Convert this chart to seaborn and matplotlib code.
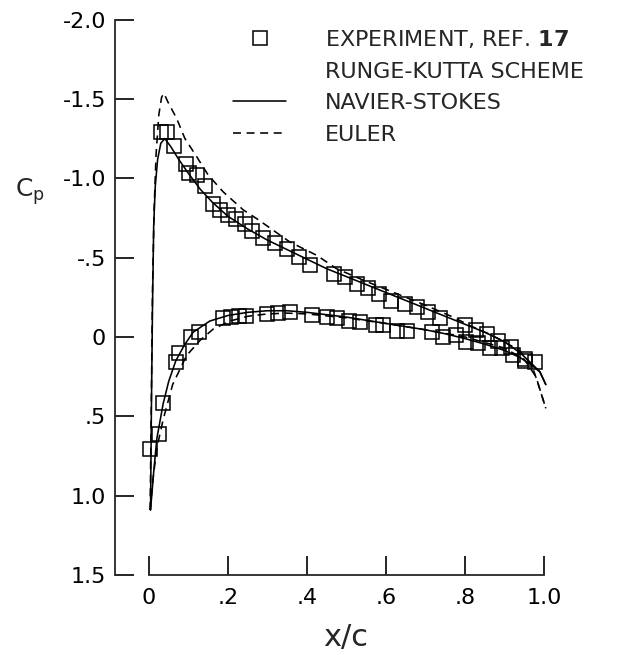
import matplotlib
matplotlib.use("Agg")
import matplotlib.pyplot as plt
import seaborn as sns
import pandas as pd
from matplotlib.lines import Line2D
from matplotlib.legend_handler import HandlerLine2D

# ---------------- data ----------------
exp_upper_x = [0.030, 0.046, 0.063, 0.094, 0.102, 0.121, 0.142, 0.161, 0.180, 0.199,
               0.220, 0.243, 0.260, 0.290, 0.320, 0.349, 0.381, 0.408, 0.468, 0.496,
               0.526, 0.555, 0.582, 0.614, 0.648, 0.678, 0.707, 0.737, 0.800, 0.828,
               0.857, 0.884, 0.918, 0.952, 0.977]
exp_upper_cp = [-1.29, -1.29, -1.20, -1.09, -1.03, -1.02, -0.95, -0.84, -0.80, -0.77,
                -0.745, -0.714, -0.665, -0.623, -0.592, -0.552, -0.503, -0.455, -0.398, -0.377,
                -0.335, -0.307, -0.272, -0.229, -0.208, -0.187, -0.156, -0.118, -0.076, -0.046,
                -0.019, 0.023, 0.065, 0.139, 0.160]

exp_lower_x = [0.003, 0.026, 0.036, 0.068, 0.077, 0.106, 0.127, 0.188, 0.209, 0.229,
               0.247, 0.298, 0.327, 0.357, 0.414, 0.450, 0.477, 0.507, 0.534, 0.575,
               0.593, 0.627, 0.654, 0.716, 0.745, 0.777, 0.804, 0.834, 0.863, 0.893,
               0.921, 0.952]
exp_lower_cp = [0.707, 0.613, 0.417, 0.160, 0.103, 0.002, -0.034, -0.118, -0.124, -0.131,
                -0.135, -0.145, -0.150, -0.156, -0.139, -0.124, -0.118, -0.103, -0.097, -0.076,
                -0.076, -0.040, -0.040, -0.030, 0.000, -0.013, 0.030, 0.038, 0.071, 0.071,
                0.114, 0.150]

ns_upper_x = [0.004, 0.006, 0.009, 0.012, 0.016, 0.022, 0.030, 0.040, 0.055, 0.075,
              0.100, 0.130, 0.160, 0.200, 0.250, 0.300, 0.350, 0.400, 0.450, 0.500,
              0.550, 0.600, 0.650, 0.700, 0.750, 0.800, 0.850, 0.900, 0.940, 0.970,
              0.990, 1.005]
ns_upper_cp = [1.09, 0.50, -0.20, -0.70, -0.95, -1.12, -1.22, -1.25, -1.20, -1.12,
               -1.03, -0.93, -0.85, -0.76, -0.68, -0.61, -0.55, -0.49, -0.43, -0.38,
               -0.33, -0.28, -0.23, -0.18, -0.13, -0.08, -0.03, 0.03, 0.10, 0.17,
               0.22, 0.30]

ns_lower_x = [0.004, 0.012, 0.020, 0.036, 0.050, 0.068, 0.090, 0.112, 0.154, 0.200,
              0.250, 0.300, 0.350, 0.400, 0.450, 0.500, 0.550, 0.600, 0.650, 0.700,
              0.750, 0.800, 0.850, 0.900, 0.940, 0.970, 0.990, 1.005]
ns_lower_cp = [1.09, 0.85, 0.64, 0.42, 0.28, 0.15, 0.05, -0.03, -0.10, -0.135,
               -0.155, -0.165, -0.165, -0.155, -0.140, -0.125, -0.105, -0.085, -0.065, -0.045,
               -0.020, 0.010, 0.045, 0.085, 0.130, 0.180, 0.220, 0.30]

eu_upper_x = [0.003, 0.006, 0.009, 0.013, 0.018, 0.025, 0.032, 0.038, 0.048, 0.070,
              0.091, 0.121, 0.150, 0.188, 0.239, 0.273, 0.357, 0.425, 0.475, 0.550,
              0.620, 0.700, 0.771, 0.813, 0.860, 0.900, 0.940, 0.970, 0.990, 1.005]
eu_upper_cp = [1.09, 0.40, -0.30, -0.80, -1.15, -1.40, -1.51, -1.535, -1.48, -1.377,
               -1.25, -1.135, -1.02, -0.914, -0.80, -0.745, -0.598, -0.514, -0.43, -0.35,
               -0.28, -0.20, -0.124, -0.071, -0.02, 0.03, 0.09, 0.18, 0.33, 0.45]

eu_lower_x = [0.003, 0.010, 0.020, 0.036, 0.060, 0.095, 0.130, 0.163, 0.205, 0.250,
              0.300, 0.350, 0.400, 0.500, 0.600, 0.700, 0.800, 0.900, 0.950, 0.980, 1.005]
eu_lower_cp = [1.09, 0.90, 0.70, 0.52, 0.30, 0.118, 0.02, -0.05, -0.10, -0.13,
               -0.145, -0.15, -0.145, -0.12, -0.085, -0.045, 0.00, 0.07, 0.14, 0.25, 0.45]

x_ticks = [0, 0.2, 0.4, 0.6, 0.8, 1.0]
x_tick_labels = ["0", ".2", ".4", ".6", ".8", "1.0"]
y_ticks = [-2.0, -1.5, -1.0, -0.5, 0.0, 0.5, 1.0, 1.5]
y_tick_labels = ["-2.0", "-1.5", "-1.0", "-.5", "0", ".5", "1.0", "1.5"]
legend_labels = [r"EXPERIMENT, REF. $\mathbf{17}$", "RUNGE-KUTTA SCHEME",
                 "NAVIER-STOKES", "EULER"]

# ---------------- tables ----------------
def frame(x, y, surface, model):
    return pd.DataFrame({"x": x, "cp": y, "surface": surface, "model": model})

curves = pd.concat([
    frame(ns_upper_x, ns_upper_cp, "upper", "Navier-Stokes"),
    frame(ns_lower_x, ns_lower_cp, "lower", "Navier-Stokes"),
    frame(eu_upper_x, eu_upper_cp, "upper", "Euler"),
    frame(eu_lower_x, eu_lower_cp, "lower", "Euler"),
], ignore_index=True)
curves["unit"] = curves["model"] + "-" + curves["surface"]

exp = pd.concat([
    frame(exp_upper_x, exp_upper_cp, "upper", "Experiment"),
    frame(exp_lower_x, exp_lower_cp, "lower", "Experiment"),
], ignore_index=True)

# ---------------- style ----------------
sns.set_style("ticks")
plt.rcParams["font.family"] = ["DejaVu Sans"]
plt.rcParams["mathtext.fontset"] = "dejavusans"

DASH = (5, 3.5)
fig = plt.figure(figsize=(6.18, 6.55), dpi=100)
ax = fig.add_axes([115 / 618, 1 - 575 / 655, (577 - 115) / 618, (575 - 19.5) / 655])

sns.lineplot(data=curves, x="x", y="cp", units="unit", style="model",
             style_order=["Navier-Stokes", "Euler"],
             dashes={"Navier-Stokes": "", "Euler": DASH},
             estimator=None, sort=False, color="black", linewidth=1.15,
             legend=False, ax=ax)

sns.lineplot(data=exp, x="x", y="cp", units="surface", estimator=None, sort=False,
             color="black", linestyle="", marker="s", markersize=9.5,
             markerfacecolor="none", markeredgecolor="black", markeredgewidth=1.1,
             legend=False, ax=ax)

ax.set_xlim(-0.086, 1.084)
ax.set_ylim(1.5, -2.0)
ax.set_xticks(x_ticks)
ax.set_xticklabels(x_tick_labels)
ax.set_yticks(y_ticks)
ax.set_yticklabels(y_tick_labels)
ax.tick_params(axis="both", direction="in", length=14, width=1.2, colors="black",
               labelsize=16)
ax.tick_params(axis="y", pad=6.5)
ax.tick_params(axis="x", pad=9)

for side in ("top", "right"):
    ax.spines[side].set_visible(False)
ax.spines["left"].set_linewidth(1.3)
ax.spines["bottom"].set_linewidth(1.3)
ax.spines["bottom"].set_bounds(0, 1.0)

ax.set_xlabel("x/c", fontsize=22, labelpad=11)
ax.set_ylabel("C$_\\mathregular{p}$", fontsize=18, rotation=0, labelpad=0)
ax.yaxis.set_label_coords(-0.184, 0.662)


class RightMarkerHandler(HandlerLine2D):
    def get_xdata(self, legend, xdescent, ydescent, width, height, fontsize):
        xdata, _ = super().get_xdata(legend, xdescent, ydescent, width, height, fontsize)
        return xdata, [0.81 * width - xdescent]


handles = [
    Line2D([], [], linestyle="", marker="s", markersize=9.5, markerfacecolor="none",
           markeredgecolor="black", markeredgewidth=1.1),
    Line2D([], [], linestyle="", color="none"),
    Line2D([], [], color="black", linewidth=1.15),
    Line2D([], [], color="black", linewidth=1.15, dashes=DASH),
]
leg = ax.legend(handles, legend_labels, loc="upper left",
                bbox_to_anchor=(233 / 618, 1 - 28 / 655), bbox_transform=fig.transFigure,
                frameon=False, fontsize=16, borderpad=0, borderaxespad=0,
                handlelength=2.4, handletextpad=1.75, labelspacing=0.52,
                handler_map={handles[0]: RightMarkerHandler(numpoints=1)})

fig.savefig("out.png", dpi=100)
